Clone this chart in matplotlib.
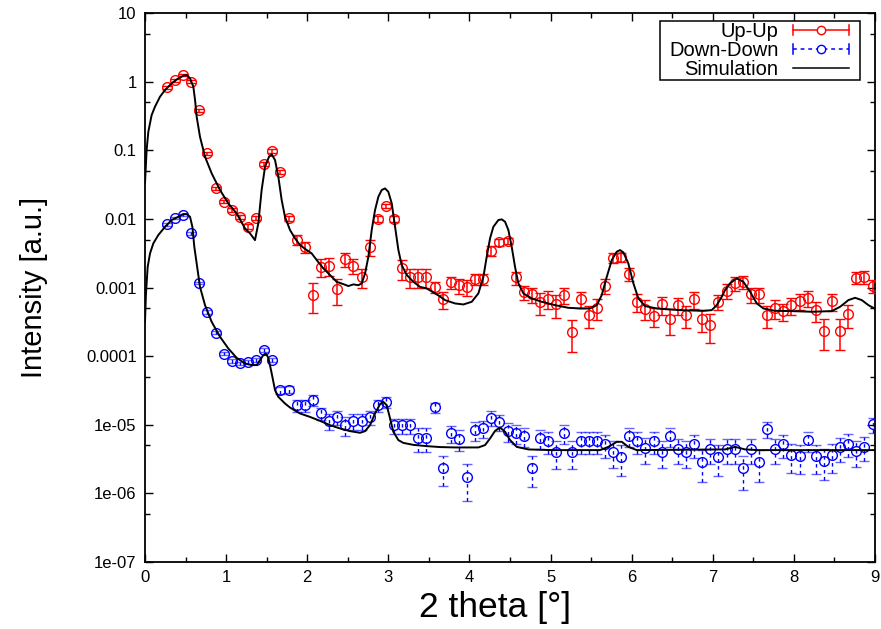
import matplotlib
matplotlib.use('Agg')
import matplotlib.pyplot as plt
from matplotlib.lines import Line2D
from matplotlib.patches import Rectangle
from matplotlib.legend_handler import HandlerBase
from matplotlib.ticker import LogLocator, MultipleLocator, FuncFormatter, NullFormatter

plt.rcParams['font.family'] = ['Liberation Sans', 'DejaVu Sans']

# measured reflectivity, both spin channels share the same 2theta grid
two_theta = [0.27, 0.37, 0.47, 0.57, 0.67, 0.77, 0.87, 0.97, 1.07, 1.17, 1.27, 1.37,
             1.47, 1.57, 1.67, 1.77, 1.87, 1.97, 2.07, 2.17, 2.27, 2.37, 2.47, 2.57,
             2.67, 2.77, 2.87, 2.97, 3.07, 3.17, 3.27, 3.37, 3.47, 3.57, 3.67, 3.77,
             3.87, 3.97, 4.07, 4.17, 4.27, 4.37, 4.47, 4.57, 4.67, 4.77, 4.87, 4.97,
             5.07, 5.17, 5.27, 5.37, 5.47, 5.57, 5.67, 5.77, 5.87, 5.97, 6.07, 6.17,
             6.27, 6.37, 6.47, 6.57, 6.67, 6.77, 6.87, 6.97, 7.07, 7.17, 7.27, 7.37,
             7.47, 7.57, 7.67, 7.77, 7.87, 7.97, 8.07, 8.17, 8.27, 8.37, 8.47, 8.57,
             8.67, 8.77, 8.87, 8.97]

up_up = [0.83, 1.05, 1.25, 1.0, 0.385, 0.090, 0.0278, 0.0178, 0.0134, 0.0107, 0.0077, 0.0102,
         0.063, 0.097, 0.0477, 0.0102, 0.0050, 0.0039, 0.00079, 0.0020, 0.00205, 0.00095, 0.00257, 0.00207,
         0.00143, 0.0039, 0.0099, 0.0155, 0.0099, 0.0019, 0.00143, 0.00143, 0.00143, 0.00102, 0.00068, 0.00119,
         0.00108, 0.00102, 0.00131, 0.00131, 0.00343, 0.00459, 0.00475, 0.0014, 0.00085, 0.0008, 0.00061, 0.00069,
         0.00057, 0.00079, 0.000226, 0.00068, 0.000396, 0.000506, 0.00106, 0.00271, 0.0028, 0.00157, 0.00062, 0.000494,
         0.000387, 0.000566, 0.000343, 0.000553, 0.000396, 0.00068, 0.000347, 0.000283, 0.00062, 0.00090, 0.00115, 0.00121,
         0.0008, 0.0008, 0.000396, 0.000506, 0.000453, 0.000553, 0.000634, 0.00071, 0.000468, 0.000234, 0.000634, 0.000234,
         0.000406, 0.00139, 0.00143, 0.00105]

up_up_err = [0.04, 0.05, 0.06, 0.05, 0.02, 0.005, 0.0015, 0.001, 0.0008, 0.0007, 0.0006, 0.0007,
             0.004, 0.006, 0.003, 0.0008, 0.0008, 0.0007, 0.00036, 0.0006, 0.0006, 0.0004, 0.00057, 0.00049,
             0.00046, 0.00098, 0.001, 0.001, 0.001, 0.0006, 0.00046, 0.00046, 0.00046, 0.0002, 0.00019, 0.00025,
             0.00027, 0.00026, 0.00024, 0.00024, 0.0006, 0.0005, 0.0005, 0.0003, 0.0002, 0.0002, 0.00021, 0.0002,
             0.00021, 0.00021, 0.00011, 0.00018, 0.00014, 0.00017, 0.00025, 0.00042, 0.00043, 0.00033, 0.00018, 0.00016,
             0.000124, 0.000164, 0.000137, 0.00016, 0.00014, 0.00019, 0.00012, 0.000126, 0.000155, 0.00023, 0.00025, 0.00025,
             0.0002, 0.0002, 0.00014, 0.00016, 0.00013, 0.00016, 0.00017, 0.00019, 0.00015, 0.00011, 0.00018, 0.00011,
             0.00015, 0.00027, 0.0003, 0.00023]

down_down = [0.0083, 0.0104, 0.0114, 0.00614, 0.00117, 0.000443, 0.000219, 0.000109, 8.45e-5, 7.82e-5, 8.26e-5, 8.74e-5,
             1.22e-4, 8.74e-5, 3.19e-5, 3.26e-5, 1.93e-5, 1.93e-5, 2.29e-5, 1.46e-5, 1.14e-5, 1.30e-5, 9.8e-6, 1.14e-5,
             1.14e-5, 1.30e-5, 1.93e-5, 2.16e-5, 9.8e-6, 9.8e-6, 9.8e-6, 6.5e-6, 6.5e-6, 1.80e-5, 2.36e-6, 7.46e-6,
             6.3e-6, 1.74e-6, 8.34e-6, 8.83e-6, 1.26e-5, 1.10e-5, 8.15e-6, 7.46e-6, 6.89e-6, 2.36e-6, 6.45e-6, 5.77e-6,
             4.03e-6, 7.46e-6, 4.03e-6, 5.77e-6, 5.77e-6, 5.77e-6, 5.21e-6, 4.03e-6, 3.4e-6, 6.82e-6, 5.77e-6, 4.51e-6,
             5.77e-6, 4.03e-6, 6.82e-6, 4.5e-6, 4.03e-6, 5.2e-6, 2.88e-6, 4.5e-6, 3.4e-6, 4.5e-6, 4.5e-6, 2.31e-6,
             4.5e-6, 2.88e-6, 8.7e-6, 4.5e-6, 5.2e-6, 3.6e-6, 3.5e-6, 5.97e-6, 3.5e-6, 2.98e-6, 3.6e-6, 4.67e-6,
             5.33e-6, 4.12e-6, 4.8e-6, 1.01e-5]

down_down_err = [3e-4, 4e-4, 4e-4, 3e-4, 5e-5, 3e-5, 1e-5, 6e-6, 5e-6, 5e-6, 5e-6, 5e-6,
                 8e-6, 6e-6, 4e-6, 4e-6, 4e-6, 4e-6, 4e-6, 3e-6, 3e-6, 3e-6, 3e-6, 3e-6,
                 3e-6, 3e-6, 4e-6, 4e-6, 2.5e-6, 2.5e-6, 2.5e-6, 2.5e-6, 2.5e-6, 3e-6, 1.1e-6, 2.1e-6,
                 2.2e-6, 0.97e-6, 2.5e-6, 2.5e-6, 3.1e-6, 3e-6, 2.5e-6, 2.3e-6, 2.2e-6, 1.13e-6, 2e-6, 2e-6,
                 1.8e-6, 2.3e-6, 1.8e-6, 2e-6, 2e-6, 2e-6, 1.9e-6, 1.7e-6, 1.6e-6, 2.1e-6, 2e-6, 1.8e-6,
                 2e-6, 1.7e-6, 2.1e-6, 1.8e-6, 1.7e-6, 1.9e-6, 1.4e-6, 1.8e-6, 1.6e-6, 1.8e-6, 1.8e-6, 1.2e-6,
                 1.8e-6, 1.4e-6, 2.3e-6, 1.8e-6, 1.9e-6, 1.6e-6, 1.6e-6, 2e-6, 1.6e-6, 1.4e-6, 1.6e-6, 1.8e-6,
                 1.9e-6, 1.7e-6, 1.8e-6, 2.5e-6]

# simulated curves
sim_up_x = [0.0, 0.02, 0.041, 0.082, 0.123, 0.185, 0.247, 0.329, 0.411, 0.472, 0.514, 0.555,
            0.596, 0.617, 0.637, 0.678, 0.74, 0.822, 0.925, 1.027, 1.13, 1.233, 1.295, 1.356,
            1.397, 1.438, 1.48, 1.529, 1.562, 1.603, 1.644, 1.685, 1.726, 1.788, 1.85, 1.911,
            1.994, 2.055, 2.117, 2.199, 2.281, 2.363, 2.445, 2.507, 2.569, 2.63, 2.672, 2.713,
            2.754, 2.795, 2.836, 2.877, 2.918, 2.959, 3.0, 3.042, 3.083, 3.124, 3.165, 3.227,
            3.309, 3.391, 3.473, 3.555, 3.637, 3.699, 3.822, 3.925, 4.028, 4.11, 4.172, 4.213,
            4.254, 4.295, 4.357, 4.398, 4.439, 4.48, 4.521, 4.562, 4.603, 4.665, 4.768, 4.891,
            5.055, 5.22, 5.364, 5.487, 5.57, 5.631, 5.693, 5.755, 5.816, 5.857, 5.898, 5.959,
            6.021, 6.083, 6.165, 6.309, 6.597, 6.884, 6.987, 7.049, 7.11, 7.15, 7.213, 7.296,
            7.377, 7.46, 7.543, 7.624, 7.768, 7.974, 8.221, 8.467, 8.57, 8.672, 8.755, 8.837,
            8.919, 9.0]
sim_up = [0.0329, 0.1007, 0.186, 0.326, 0.431, 0.603, 0.755, 0.944, 1.117, 1.219, 1.247, 1.117,
          0.843, 0.540, 0.308, 0.157, 0.0804, 0.0460, 0.0263, 0.0168, 0.0120, 0.00726, 0.00614, 0.0049,
          0.00859, 0.0263, 0.0575, 0.0804, 0.0871, 0.0719, 0.0411, 0.0188, 0.0107, 0.00687, 0.0052, 0.00415,
          0.00351, 0.00314, 0.00251, 0.0019, 0.00152, 0.00121, 0.00112, 0.00105, 0.00111, 0.00108, 0.00115, 0.0016,
          0.00281, 0.00687, 0.0134, 0.021, 0.0263, 0.0278, 0.0248, 0.0168, 0.00767, 0.00351, 0.00212, 0.00152,
          0.00121, 0.00102, 0.00097, 0.00085, 0.00074, 0.000655, 0.000586, 0.000566, 0.000619, 0.00082, 0.00143, 0.00281,
          0.0052, 0.00767, 0.00962, 0.00984, 0.00908, 0.00687, 0.00392, 0.002, 0.00115, 0.00082, 0.000693, 0.000619,
          0.000553, 0.000506, 0.000495, 0.000495, 0.000553, 0.000774, 0.00143, 0.00251, 0.00332, 0.00351, 0.00324, 0.00224,
          0.00115, 0.000693, 0.000536, 0.000495, 0.000468, 0.000457, 0.000468, 0.000553, 0.000731, 0.000912, 0.00115, 0.00136,
          0.00121, 0.000867, 0.000586, 0.000495, 0.000457, 0.000453, 0.000443, 0.000453, 0.000524, 0.000655, 0.000708, 0.000655,
          0.000553, 0.00049]

sim_down_x = [0.0, 0.012, 0.033, 0.062, 0.103, 0.164, 0.247, 0.329, 0.411, 0.472, 0.514, 0.555,
              0.584, 0.608, 0.637, 0.678, 0.74, 0.822, 0.925, 1.027, 1.13, 1.233, 1.315, 1.377,
              1.418, 1.459, 1.488, 1.521, 1.562, 1.603, 1.644, 1.726, 1.788, 1.911, 2.035, 2.158,
              2.281, 2.404, 2.528, 2.651, 2.713, 2.774, 2.836, 2.898, 2.938, 2.98, 3.021, 3.062,
              3.124, 3.185, 3.309, 3.473, 3.637, 3.822, 4.11, 4.192, 4.254, 4.316, 4.377, 4.439,
              4.501, 4.583, 4.727, 5.015, 5.61, 5.713, 5.816, 5.878, 5.959, 6.063, 7.152, 7.275,
              7.398, 7.562, 9.0]
sim_down = [3.16e-4, 8.2e-4, 2.0e-3, 3.14e-3, 4.40e-3, 5.81e-3, 7.67e-3, 9.62e-3, 1.074e-2, 1.175e-2, 1.175e-2, 1.074e-2,
            7.67e-3, 3.92e-3, 2.24e-3, 1.02e-3, 5.53e-4, 3.16e-4, 1.91e-4, 1.294e-4, 9.44e-5, 7.82e-5, 7.40e-5, 7.40e-5,
            8.75e-5, 1.035e-4, 1.094e-4, 9.44e-5, 5.60e-5, 3.19e-5, 2.55e-5, 2.04e-5, 1.78e-5, 1.46e-5, 1.30e-5, 1.14e-5,
            9.86e-6, 8.83e-6, 8.07e-6, 7.64e-6, 8.07e-6, 9.86e-6, 1.46e-5, 2.0e-5, 2.16e-5, 1.93e-5, 1.24e-5, 7.89e-6,
            5.97e-6, 5.44e-6, 5.09e-6, 4.88e-6, 4.73e-6, 4.67e-6, 4.67e-6, 5.05e-6, 6.31e-6, 8.15e-6, 9.12e-6, 7.89e-6,
            5.97e-6, 4.76e-6, 4.37e-6, 4.27e-6, 4.27e-6, 4.76e-6, 5.64e-6, 5.64e-6, 4.76e-6, 4.27e-6, 4.37e-6, 4.76e-6,
            4.37e-6, 4.27e-6, 4.27e-6]

red = '#ff0000'
blue = '#0000ff'
dash = (0, (2.5, 2.5))


class KeySample(HandlerBase):
    # horizontal key sample: line, end caps and a circle in the middle
    def __init__(self, color, ls, with_bar):
        super().__init__()
        self.color = color
        self.ls = ls
        self.with_bar = with_bar

    def create_artists(self, legend, orig_handle, xdescent, ydescent,
                       width, height, fontsize, trans):
        y = height / 2 - ydescent
        x0, x1 = -xdescent, width - xdescent
        arts = [Line2D([x0, x1], [y, y], color=self.color, ls=self.ls, lw=1.1)]
        if self.with_bar:
            h = 3.5
            arts.append(Line2D([x0, x0], [y - h, y + h], color=self.color, lw=1.1))
            arts.append(Line2D([x1, x1], [y - h, y + h], color=self.color, lw=1.1))
            arts.append(Line2D([(x0 + x1) / 2], [y], marker='o', ms=6, mfc='white',
                               mec=self.color, mew=1.0, ls='none'))
        for a in arts:
            a.set_transform(trans)
        return arts


fig = plt.figure(figsize=(8.81, 6.29), dpi=100)
ax = fig.add_axes([145 / 881, 1 - 562 / 629, 730 / 881, 549 / 629])

eb = ax.errorbar(two_theta, up_up, yerr=up_up_err, fmt='o', ms=7, mfc='none', mec=red,
                 mew=1.0, ecolor=red, elinewidth=1.1, capsize=3.5, capthick=1.1, zorder=3)

eb2 = ax.errorbar(two_theta, down_down, yerr=down_down_err, fmt='o', ms=7, mfc='none', mec=blue,
                  mew=1.0, ecolor=blue, elinewidth=1.0, capsize=3.5, capthick=1.0, zorder=3)
eb2[2][0].set_linestyle(dash)
for cap in eb2[1]:
    cap.set_alpha(0.6)

ax.plot(sim_up_x, sim_up, color='black', lw=1.4, zorder=4)
ax.plot(sim_down_x, sim_down, color='black', lw=1.4, zorder=4)

ax.set_yscale('log')
ax.set_xlim(0, 9)
ax.set_ylim(1e-7, 10)

ax.xaxis.set_major_locator(MultipleLocator(1))
ax.xaxis.set_minor_locator(MultipleLocator(0.5))
ax.xaxis.set_major_formatter(FuncFormatter(lambda v, p: '%g' % v))
ax.yaxis.set_major_locator(LogLocator(base=10, numticks=20))
ax.yaxis.set_minor_locator(LogLocator(base=10, subs=(5.0,), numticks=20))
ax.yaxis.set_major_formatter(FuncFormatter(lambda v, p: '%g' % v))
ax.yaxis.set_minor_formatter(NullFormatter())

ax.tick_params(which='both', direction='in', top=True, right=True, labelsize=12, width=1.0, pad=6)
ax.tick_params(which='major', length=6)
ax.tick_params(which='minor', length=3.5)
for s in ax.spines.values():
    s.set_linewidth(1.3)

ax.set_xlabel('2 theta [°]', fontsize=25.5)
ax.xaxis.set_label_coords(0.479, -0.052)
ax.set_ylabel('Intensity [a.u.]', fontsize=21, labelpad=27)

# key box drawn separately so the padding can differ per side
ax.add_patch(Rectangle((660 / 881, 1 - 80 / 629), 200 / 881, 59 / 629, transform=fig.transFigure,
                       facecolor='white', edgecolor='black', lw=1.1, zorder=5))

keys = [Line2D([], []), Line2D([], []), Line2D([], [])]
leg = ax.legend(keys, ['Up-Up', 'Down-Down', 'Simulation'],
                handler_map={keys[0]: KeySample(red, '-', True),
                             keys[1]: KeySample(blue, dash, True),
                             keys[2]: KeySample('black', '-', False)},
                loc='upper right', bbox_to_anchor=(849 / 881, 1 - 22 / 629),
                bbox_transform=fig.transFigure, markerfirst=False, fontsize=14.5,
                handlelength=2.8, handletextpad=0.7, labelspacing=0.0,
                borderpad=0.0, borderaxespad=0, frameon=False)
leg.set_zorder(6)

fig.savefig('out.png', dpi=100)
